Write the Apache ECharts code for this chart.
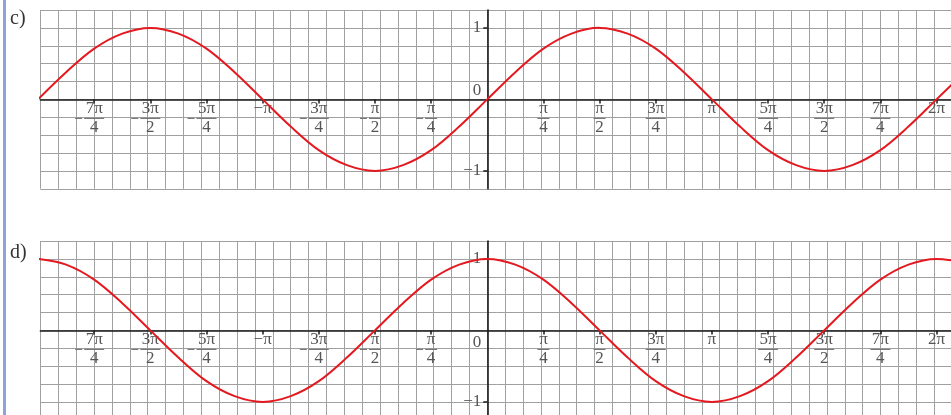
<!DOCTYPE html>
<html>
<head>
<meta charset="utf-8">
<script src="https://cdn.jsdelivr.net/npm/echarts@6/dist/echarts.min.js"></script>
<style>
html,body{margin:0;padding:0;background:#fff;}
#chart{width:951px;height:415px;}
</style>
</head>
<body>
<div id="chart"></div>
<script>
// x positions in multiples of π/8 (last point: right edge of the grid, 6.5)
const xEighthsPi = [-16,-15,-14,-13,-12,-11,-10,-9,-8,-7,-6,-5,-4,-3,-2,-1,0,1,2,3,4,5,6,7,8,9,10,11,12,13,14,15,16,16.55];
// panel c) values
const valuesC = [0,0.38,0.71,0.92,1,0.92,0.71,0.38,0,-0.38,-0.71,-0.92,-1,-0.92,-0.71,-0.38,0,0.38,0.71,0.92,1,0.92,0.71,0.38,0,-0.38,-0.71,-0.92,-1,-0.92,-0.71,-0.38,0,0.21];
// panel d) values
const valuesD = [1,0.92,0.71,0.38,0,-0.38,-0.71,-0.92,-1,-0.92,-0.71,-0.38,0,0.38,0.71,0.92,1,0.92,0.71,0.38,0,-0.38,-0.71,-0.92,-1,-0.92,-0.71,-0.38,0,0.38,0.71,0.92,1,0.98];
// x tick labels at multiples of π/4
const tickQuarters = [-7,-6,-5,-4,-3,-2,-1,1,2,3,4,5,6,7,8];
const tickLabels = ['−7π/4','−3π/2','−5π/4','−π','−3π/4','−π/2','−π/4','π/4','π/2','3π/4','π','5π/4','3π/2','7π/4','2π'];
const yTickValues = [-1, 1];
const yLabelValues = [-1, 0, 1];
const panelNames = ['c)', 'd)'];

const FONT = 'Liberation Serif';
const LABEL_COLOR = '#555';
const tickValues = tickQuarters.map(k => k * Math.PI / 4);

function xLabel(value) {
  let idx = 0, best = 1e9;
  tickValues.forEach((v, i) => { const d = Math.abs(v - value); if (d < best) { best = d; idx = i; } });
  const s = tickLabels[idx];
  const neg = s[0] === '−';
  const body = neg ? s.slice(1) : s;
  if (body.indexOf('/') < 0) return '{plain|' + s + '}';
  const parts = body.split('/');
  const bar = parts[0].length > 1 ? 'barL' : 'barS';
  if (neg) return '{num|' + parts[0] + '}\n{mi|}{gp|}{' + bar + '|}{gp|}{sp|}\n{den|' + parts[1] + '}';
  return '{num|' + parts[0] + '}\n{' + bar + '|}\n{den|' + parts[1] + '}';
}

const richX = {
  plain: { fontFamily: FONT, fontSize: 17, color: LABEL_COLOR, lineHeight: 15 },
  num: { fontFamily: FONT, fontSize: 17, color: LABEL_COLOR, lineHeight: 15 },
  den: { fontFamily: FONT, fontSize: 17, color: LABEL_COLOR, lineHeight: 15 },
  barS: { width: 12, height: 1, lineHeight: 4, backgroundColor: '#666' },
  barL: { width: 20, height: 1, lineHeight: 4, backgroundColor: '#666' },
  mi: { width: 7, height: 1, lineHeight: 4, backgroundColor: '#666' },
  gp: { width: 2, height: 1, lineHeight: 4 },
  sp: { width: 7, height: 1, lineHeight: 4 }
};

const SCALE = 71.5;
const X_MIN = -6.25, X_MAX = 6.5, Y_MIN = -1.25, Y_MAX = 1.25;
const gridTops = [10, 241];
const grids = gridTops.map(t => ({
  left: 40.4, top: t, width: (X_MAX - X_MIN) * SCALE, height: (Y_MAX - Y_MIN) * SCALE,
  containLabel: false, outerBoundsMode: 'none'
}));
const xZeroOffset = -(Y_MAX) * SCALE;      // move bottom x-axis up to y = 0
const yZeroOffset = -(-X_MIN) * SCALE;     // move left y-axis right to x = 0

const xAxes = [];
const yAxes = [];
gridTops.forEach((t, i) => {
  xAxes.push({
    type: 'value', gridIndex: i, position: 'top', min: X_MIN, max: X_MAX, interval: 0.25,
    splitLine: { show: true, lineStyle: { color: '#a0a0a0', width: 1 } },
    axisLine: { show: false }, axisTick: { show: false }, axisLabel: { show: false }
  });
  xAxes.push({
    type: 'value', gridIndex: i, position: 'bottom', offset: xZeroOffset, min: X_MIN, max: X_MAX,
    splitLine: { show: false },
    axisLine: { show: true, onZero: false, lineStyle: { color: '#1a1a1a', width: 1.6 } },
    axisTick: { show: true, customValues: tickValues, length: 4, lineStyle: { color: '#1a1a1a', width: 1.5 } },
    axisLabel: { show: true, customValues: tickValues, margin: 2, formatter: xLabel, rich: richX }
  });
  yAxes.push({
    type: 'value', gridIndex: i, position: 'right', min: Y_MIN, max: Y_MAX, interval: 0.25,
    splitLine: { show: true, lineStyle: { color: '#a0a0a0', width: 1 } },
    axisLine: { show: false }, axisTick: { show: false }, axisLabel: { show: false }
  });
  yAxes.push({
    type: 'value', gridIndex: i, position: 'left', offset: yZeroOffset, min: Y_MIN, max: Y_MAX,
    splitLine: { show: false },
    axisLine: { show: true, onZero: false, lineStyle: { color: '#1a1a1a', width: 1.6 } },
    axisTick: { show: true, customValues: yTickValues, length: 4, lineStyle: { color: '#1a1a1a', width: 1.5 } },
    axisLabel: {
      show: true, customValues: yLabelValues, margin: 6,
      formatter: function (v) {
        if (Math.abs(v) < 1e-9) return i === 0 ? '{z0|0}' : '{z1|0}';
        return v < 0 ? '{n|−1}' : '{n|1}';
      },
      rich: {
        n: { fontFamily: FONT, fontSize: 17, color: LABEL_COLOR },
        z0: { fontFamily: FONT, fontSize: 17, color: LABEL_COLOR, lineHeight: 15, padding: [0, 0, 18, 0] },
        z1: { fontFamily: FONT, fontSize: 17, color: LABEL_COLOR, lineHeight: 15, padding: [24, 0, 0, 0] }
      }
    }
  });
});

function pts(vals) { return xEighthsPi.map((k, j) => [k * Math.PI / 8, vals[j]]); }

const option = {
  animation: false,
  backgroundColor: '#fff',
  title: panelNames.map((n, i) => ({
    text: n, left: 10, top: i === 0 ? 9 : 243, padding: 0,
    textStyle: { fontFamily: FONT, fontSize: 20, fontWeight: 'normal', color: '#333' }
  })),
  graphic: [{ type: 'rect', left: 3, top: 0, shape: { width: 3, height: 415 }, style: { fill: '#8ea3d9' }, silent: true }],
  grid: grids,
  xAxis: xAxes,
  yAxis: yAxes,
  series: [
    { type: 'line', xAxisIndex: 1, yAxisIndex: 1, data: pts(valuesC), smooth: 0.35, showSymbol: false, clip: false,
      lineStyle: { color: '#e4191f', width: 2 }, z: 5 },
    { type: 'line', xAxisIndex: 3, yAxisIndex: 3, data: pts(valuesD), smooth: 0.35, showSymbol: false, clip: false,
      lineStyle: { color: '#e4191f', width: 2 }, z: 5 }
  ]
};

const chart = echarts.init(document.getElementById('chart'), null, { renderer: 'canvas' });
chart.setOption(option);
</script>
</body>
</html>
